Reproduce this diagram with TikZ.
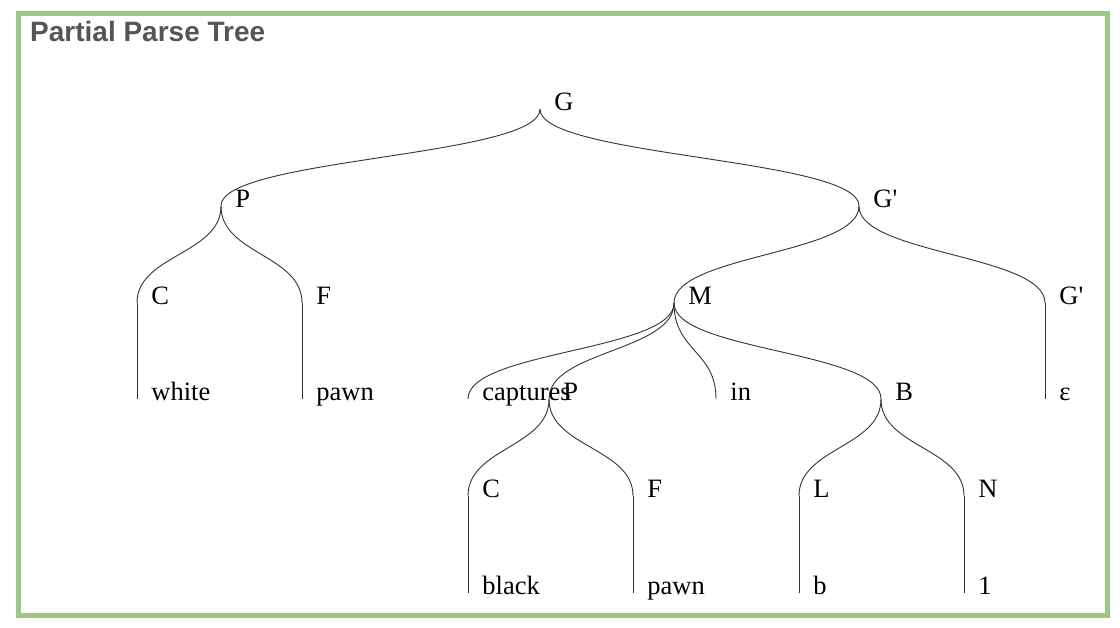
\documentclass[tikz,border=0pt]{standalone}
\usepackage{fontspec}
\setmainfont{Liberation Serif}
\newfontfamily\titlefont{Liberation Sans}
\definecolor{framegreen}{RGB}{158,199,134}
\definecolor{titlegray}{RGB}{85,85,85}
\tikzset{
  pt/.style={inner sep=0pt, minimum size=0pt},
  lbl/.style={anchor=base west, inner sep=0pt, xshift=14pt, yshift=-1.5pt, font=\fontsize{26.5}{30}\selectfont},
  link/.style={draw=black!80, line width=0.9pt},
}

\begin{document}
\begin{tikzpicture}[x=1pt, y=-1pt]
\useasboundingbox (0,0) rectangle (1120,628);
\draw[framegreen, line width=5pt] (18,13.5) rectangle (1107.5,615.5);
\node[anchor=base west, inner sep=0pt, text=titlegray, font=\titlefont\bfseries\fontsize{28}{30}\selectfont] (title) at (30,42) {Partial Parse Tree};

\node[pt, label={[lbl]east:G}] (G) at (540,109) {};
\node[pt, label={[lbl]east:P}] (P) at (221,206) {};
\node[pt, label={[lbl]east:G\textquotesingle}] (Gp) at (859,206) {};
\node[pt, label={[lbl]east:C}] (C) at (137,303) {};
\node[pt, label={[lbl]east:F}] (F) at (302,303) {};
\node[pt, label={[lbl]east:M}] (M) at (674,303) {};
\node[pt, label={[lbl]east:G\textquotesingle}] (Gq) at (1045,303) {};
\node[pt, label={[lbl]east:white}] (white) at (137,399) {};
\node[pt, label={[lbl]east:pawn}] (pawn) at (302,399) {};
\node[pt, label={[lbl]east:captures}] (captures) at (468,399) {};
\node[pt, label={[lbl]east:P}] (P2) at (549,399) {};
\node[pt, label={[lbl]east:in}] (inw) at (716,399) {};
\node[pt, label={[lbl]east:B}] (B) at (881,399) {};
\node[pt, label={[lbl]east:ε}] (eps) at (1045,399) {};
\node[pt, label={[lbl]east:C}] (C2) at (468,496) {};
\node[pt, label={[lbl]east:F}] (F2) at (633,496) {};
\node[pt, label={[lbl]east:L}] (L) at (799,496) {};
\node[pt, label={[lbl]east:N}] (N) at (964,496) {};
\node[pt, label={[lbl]east:black}] (black) at (468,593) {};
\node[pt, label={[lbl]east:pawn}] (pawn2) at (633,593) {};
\node[pt, label={[lbl]east:b}] (b) at (799,593) {};
\node[pt, label={[lbl]east:1}] (one) at (964,593) {};

\draw[link] (G) .. controls ([yshift=-48pt]G) and ([yshift=48pt]P) .. (P);
\draw[link] (G) .. controls ([yshift=-48pt]G) and ([yshift=48pt]Gp) .. (Gp);
\draw[link] (P) .. controls ([yshift=-48pt]P) and ([yshift=48pt]C) .. (C);
\draw[link] (P) .. controls ([yshift=-48pt]P) and ([yshift=48pt]F) .. (F);
\draw[link] (Gp) .. controls ([yshift=-48pt]Gp) and ([yshift=48pt]M) .. (M);
\draw[link] (Gp) .. controls ([yshift=-48pt]Gp) and ([yshift=48pt]Gq) .. (Gq);
\draw[link] (C) -- (white);
\draw[link] (F) -- (pawn);
\draw[link] (M) .. controls ([yshift=-48pt]M) and ([yshift=48pt]captures) .. (captures);
\draw[link] (M) .. controls ([yshift=-48pt]M) and ([yshift=48pt]P2) .. (P2);
\draw[link] (M) .. controls ([yshift=-48pt]M) and ([yshift=48pt]inw) .. (inw);
\draw[link] (M) .. controls ([yshift=-48pt]M) and ([yshift=48pt]B) .. (B);
\draw[link] (Gq) -- (eps);
\draw[link] (P2) .. controls ([yshift=-48pt]P2) and ([yshift=48pt]C2) .. (C2);
\draw[link] (P2) .. controls ([yshift=-48pt]P2) and ([yshift=48pt]F2) .. (F2);
\draw[link] (B) .. controls ([yshift=-48pt]B) and ([yshift=48pt]L) .. (L);
\draw[link] (B) .. controls ([yshift=-48pt]B) and ([yshift=48pt]N) .. (N);
\draw[link] (C2) -- (black);
\draw[link] (F2) -- (pawn2);
\draw[link] (L) -- (b);
\draw[link] (N) -- (one);
\end{tikzpicture}
\end{document}
